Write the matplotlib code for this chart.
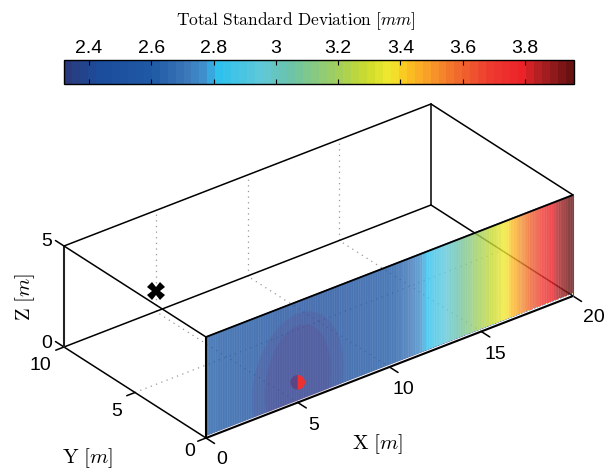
import numpy as np
import matplotlib
matplotlib.use('Agg')
import matplotlib.pyplot as plt
from matplotlib import colors, cm
from matplotlib.patches import Ellipse, Rectangle, Wedge
from matplotlib.transforms import Affine2D

plt.rcParams['font.family'] = ['Liberation Sans', 'DejaVu Sans']
plt.rcParams['mathtext.fontset'] = 'cm'
plt.rcParams['hatch.linewidth'] = 0.5

# std along the wall, one value each 0.5 m from x=0 to x=20
wall_z = [0.08, 5]
wall_std = [2.62, 2.60, 2.58, 2.56, 2.54, 2.52, 2.50, 2.48, 2.46, 2.45, 2.44,
            2.44, 2.45, 2.46, 2.47, 2.48, 2.50, 2.53, 2.55, 2.58, 2.60, 2.63,
            2.68, 2.74, 2.80, 2.87, 2.93, 3.00, 3.07, 3.13, 3.20, 3.26, 3.32,
            3.37, 3.45, 3.54, 3.62, 3.70, 3.78, 3.86, 3.94]

cbar_ticks = [2.4, 2.6, 2.8, 3, 3.2, 3.4, 3.6, 3.8]
cbar_labels = ['2.4', '2.6', '2.8', '3', '3.2', '3.4', '3.6', '3.8']
x_ticks = [0, 5, 10, 15, 20]
y_ticks = [0, 5, 10]
z_ticks = [0, 5]
source_pos = (5, 10, 1)
receiver_pos = (5, 0, 1)

vmin, vmax = 2.32, 3.957
anchors = [(2.32, '#2b3a7c'), (2.42, '#1c4c9c'), (2.6, '#1f5aa6'), (2.7, '#3a75b8'),
           (2.78, '#3f97d2'), (2.8, '#29c0f0'), (2.95, '#5fc8d8'), (3.05, '#6cc3a6'),
           (3.2, '#a2cf5a'), (3.3, '#cfdc2a'), (3.37, '#f2ea30'), (3.42, '#fcc420'),
           (3.5, '#f89a2a'), (3.6, '#f0662c'), (3.7, '#ee3a30'), (3.8, '#ec2228'),
           (3.85, '#b82024'), (3.957, '#6a1212')]
cmap = colors.LinearSegmentedColormap.from_list(
    'wall', [((v - vmin) / (vmax - vmin), c) for v, c in anchors], N=64)
norm = colors.Normalize(vmin=vmin, vmax=vmax)

W, H = 610, 469
fig = plt.figure(figsize=(W / 100, H / 100), dpi=100)
ax = fig.add_axes([0, 0, 1, 1])
ax.axis('off')


# fixed view: world metres to picture pixels
def proj(x, y, z):
    return (206 + 18.35 * x - 14.2 * y, 438 - 7.1 * x - 9.1 * y - 20.2 * z)


def seg(a, b, **kw):
    pa, pb = proj(*a), proj(*b)
    ax.plot([pa[0], pb[0]], [pa[1], pb[1]], solid_capstyle='round', **kw)


# dotted grid, back wall and floor
dot = dict(color='#999999', lw=0.9, ls=(0, (1, 3.5)))
for x in x_ticks[1:-1]:
    seg((x, 10, 0), (x, 10, 5), **dot)
    seg((x, 0, 0), (x, 10, 0), **dot)
seg((0, 5, 0), (20, 5, 0), **dot)

# box, rear edges first
black = dict(color='black', lw=1.1)
seg((0, 10, 0), (20, 10, 0), **black)
seg((20, 0, 0), (20, 10, 0), **black)
seg((20, 10, 0), (20, 10, 5), **black)
seg((0, 10, 0), (0, 0, 0), **black)

# the wall y=0 in its own x-z transform
wall_tr = Affine2D.from_values(18.35, -7.1, 0, -20.2, 206, 438) + ax.transData
ax.imshow(np.array([wall_std, wall_std]), cmap=cmap, norm=norm, origin='lower',
          extent=(0, 20, wall_z[0], wall_z[1]), aspect='auto', interpolation='bilinear',
          interpolation_stage='data', alpha=0.8, transform=wall_tr, zorder=3)
ax.add_patch(Rectangle((0, 0.08), 20, 4.92, transform=wall_tr, fc='none', lw=0,
                       ec=(1, 1, 1, 0.10), hatch='|||||||', zorder=3.5))
ax.set_xlim(0, W)
ax.set_ylim(H, 0)

clip = Rectangle((0, 0.08), 20, 4.92, transform=wall_tr)
for w, h in [(5.0, 6.8), (3.6, 5.6)]:
    dome = Ellipse((5, 1), w, h, transform=wall_tr, fc='#6a3c84', ec='none', alpha=0.16, zorder=4)
    ax.add_patch(dome)
    dome.set_clip_path(clip.get_path(), clip.get_transform())

seg((0, 0, 0), (20, 0, 0), color='black', lw=1.5, zorder=5)
seg((0, 0, 5), (20, 0, 5), color='black', lw=1.3, zorder=5)
seg((0, 0, 0), (0, 0, 5), color='black', lw=1.5, zorder=5)
seg((0, 10, 0), (0, 10, 5), color='#222222', lw=1.5, zorder=5)
seg((20, 0, 0), (20, 0, 5), color='#555555', lw=0.8, zorder=5)
seg((0, 10, 5), (0, 0, 5), zorder=5, **black)
seg((0, 10, 5), (20, 10, 5), zorder=5, **black)
seg((20, 0, 5), (20, 10, 5), zorder=5, **black)

# ticks
for x in x_ticks:
    seg((x, 0, 0), (x, -0.6, 0), **black)
for y in y_ticks:
    seg((0, y, 0), (-0.45, y, 0), **black)
for z in z_ticks:
    seg((0, 10, z), (0, 10.6, z), **black)

fs = 14
for x, off in zip(x_ticks, [(16, 21), (16, 23), (14, 23), (14, 23), (21, 21)]):
    p = proj(x, 0, 0)
    ax.text(p[0] + off[0], p[1] + off[1], str(x), fontsize=fs, ha='center', va='center')
for y, pos in zip(y_ticks, [(190, 451), (117, 412), (40, 366)]):
    ax.text(pos[0], pos[1], str(y), fontsize=fs, ha='center', va='center')
for z, pos in zip(z_ticks, [(47, 343), (47, 242)]):
    ax.text(pos[0], pos[1], str(z), fontsize=fs, ha='center', va='center')

lab = 15
ax.text(378, 444, r'$\mathrm{X}\ [m]$', fontsize=lab, ha='center', va='center')
ax.text(88, 458, r'$\mathrm{Y}\ [m]$', fontsize=lab, ha='center', va='center')
ax.text(25, 297, r'$\mathrm{Z}\ [m]$', fontsize=lab, ha='center', va='center', rotation=90)
ax.text(296, 21, r'$\mathrm{Total\ Standard\ Deviation}\ [mm]$', fontsize=12.5,
        ha='center', va='center')

# source and receiver
sx, sy = proj(*source_pos)
ax.plot([sx], [sy], marker='X', ms=12.5, color='black', mew=0, zorder=6)
rx, ry = proj(*receiver_pos)
ax.add_patch(Wedge((rx, ry), 7.3, 90, 270, fc='#5b4585', ec='none', zorder=6))
ax.add_patch(Wedge((rx, ry), 7.3, -90, 90, fc='#ee3030', ec='none', zorder=6))

# colorbar on top
cax = fig.add_axes([64 / W, 1 - 84 / H, 510 / W, 24 / H])
cb = fig.colorbar(cm.ScalarMappable(norm=norm, cmap=cmap), cax=cax, orientation='horizontal',
                  ticks=cbar_ticks)
cb.ax.set_xticklabels(cbar_labels)
cb.ax.tick_params(axis='x', top=True, bottom=True, labeltop=True, labelbottom=False,
                  direction='in', length=3.5, width=0.8, labelsize=fs, pad=2)
cb.outline.set_linewidth(1.0)

fig.savefig('out.png', dpi=100)
